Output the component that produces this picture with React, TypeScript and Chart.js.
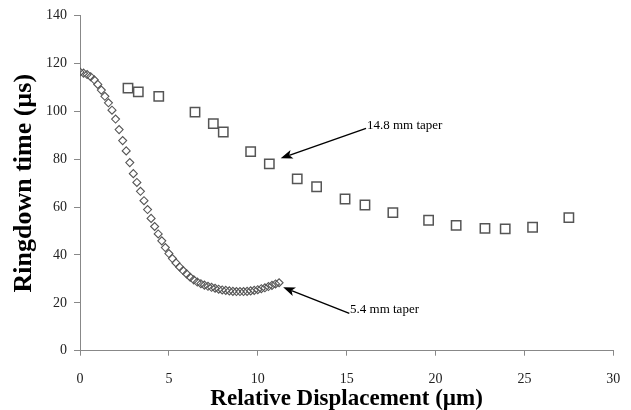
import React, { useEffect, useRef } from "react";
import { Chart, registerables } from "chart.js";

Chart.register(...registerables);

// 14.8 mm taper (squares)
const taper148X = [2.70, 3.28, 4.43, 6.47, 7.50, 8.06, 9.60, 10.65, 12.22, 13.31, 14.91, 16.03, 17.60, 19.61, 21.16, 22.78, 23.92, 25.46, 27.50];
const taper148Y = [109.7, 108.2, 106.3, 99.7, 94.9, 91.4, 83.2, 78.1, 71.8, 68.5, 63.4, 60.9, 57.7, 54.5, 52.4, 51.1, 50.9, 51.6, 55.6];

// 5.4 mm taper (diamonds)
const taper54X = [0.0, 0.2, 0.4, 0.6, 0.8, 1.0, 1.2, 1.4, 1.6, 1.8, 2.0, 2.2, 2.4, 2.6, 2.8, 3.0, 3.2, 3.4, 3.6, 3.8, 4.0, 4.2, 4.4, 4.6, 4.8, 5.0, 5.2, 5.4, 5.6, 5.8, 6.0, 6.2, 6.4, 6.6, 6.8, 7.0, 7.2, 7.4, 7.6, 7.8, 8.0, 8.2, 8.4, 8.6, 8.8, 9.0, 9.2, 9.4, 9.6, 9.8, 10.0, 10.2, 10.4, 10.6, 10.8, 11.0, 11.2];
const taper54Y = [116.5, 116.0, 115.4, 114.5, 113.2, 111.3, 108.9, 106.3, 103.6, 100.5, 96.8, 92.4, 87.8, 83.5, 78.6, 74.0, 70.3, 66.6, 62.7, 59.0, 55.3, 51.9, 48.8, 45.9, 43.1, 40.6, 38.5, 36.7, 35.0, 33.5, 32.1, 30.7, 29.6, 28.7, 28.0, 27.4, 26.9, 26.5, 26.1, 25.7, 25.4, 25.2, 25.0, 24.8, 24.7, 24.7, 24.7, 24.8, 25.0, 25.2, 25.5, 25.9, 26.3, 26.8, 27.3, 27.9, 28.4];

// annotations (data units)
const noteLabels = ["14.8 mm taper", "5.4 mm taper"];
const noteTextX = [16.14, 15.19];
const noteTextY = [92.6, 15.8];
const arrowTailX = [16.09, 15.15];
const arrowTailY = [92.9, 15.6];
const arrowHeadX = [11.29, 11.43];
const arrowHeadY = [80.4, 26.5];

const X_TITLE = "Relative Displacement (\u00b5m)";
const Y_TITLE = "Ringdown time (\u00b5s)";

const SERIF = "'Liberation Serif', 'DejaVu Serif', serif";

const annotationPlugin = {
  id: "notes",
  afterDatasetsDraw(chart: any) {
    const { ctx, scales } = chart;
    const xs = scales.x;
    const ys = scales.y;
    ctx.save();
    for (let i = 0; i < noteLabels.length; i++) {
      const tx = xs.getPixelForValue(arrowTailX[i]);
      const ty = ys.getPixelForValue(arrowTailY[i]);
      const hx = xs.getPixelForValue(arrowHeadX[i]);
      const hy = ys.getPixelForValue(arrowHeadY[i]);
      const ang = Math.atan2(hy - ty, hx - tx);
      const headLen = 12;
      const headHalf = 4.5;
      const bx = hx - headLen * Math.cos(ang);
      const by = hy - headLen * Math.sin(ang);
      ctx.strokeStyle = "#000";
      ctx.lineWidth = 1.4;
      ctx.beginPath();
      ctx.moveTo(tx, ty);
      ctx.lineTo(bx + 3 * Math.cos(ang), by + 3 * Math.sin(ang));
      ctx.stroke();
      ctx.fillStyle = "#000";
      ctx.beginPath();
      ctx.moveTo(hx, hy);
      ctx.lineTo(bx - headHalf * Math.sin(ang), by + headHalf * Math.cos(ang));
      ctx.lineTo(bx + 3 * Math.cos(ang), by + 3 * Math.sin(ang));
      ctx.lineTo(bx + headHalf * Math.sin(ang), by - headHalf * Math.cos(ang));
      ctx.closePath();
      ctx.fill();

      ctx.font = `13px ${SERIF}`;
      ctx.textAlign = "left";
      ctx.textBaseline = "alphabetic";
      ctx.fillText(noteLabels[i], xs.getPixelForValue(noteTextX[i]), ys.getPixelForValue(noteTextY[i]));
    }
    ctx.restore();
  },
};

export default function App() {
  const ref = useRef<HTMLCanvasElement | null>(null);
  useEffect(() => {
    if (!ref.current) return;
    const chart = new Chart(ref.current, {
      type: "scatter",
      data: {
        datasets: [
          {
            label: "14.8 mm taper",
            data: taper148X.map((x, i) => ({ x, y: taper148Y[i] })),
            pointStyle: "rect",
            pointRadius: 6.6,
            pointBorderColor: "#555",
            pointBorderWidth: 1.5,
            pointBackgroundColor: "rgba(0,0,0,0)",
          },
          {
            label: "5.4 mm taper",
            data: taper54X.map((x, i) => ({ x, y: taper54Y[i] })),
            pointStyle: "rectRot",
            pointRadius: 4,
            pointBorderColor: "#555",
            pointBorderWidth: 1.1,
            pointBackgroundColor: "rgba(0,0,0,0)",
          },
        ],
      },
      options: {
        responsive: false,
        animation: false,
        layout: { padding: { top: 15.7, right: 17.7, bottom: 0, left: 0 } },
        plugins: { legend: { display: false }, tooltip: { enabled: false } },
        scales: {
          x: {
            type: "linear",
            min: 0,
            max: 30,
            afterFit: (s: any) => { s.height = 59.3; s.paddingLeft = 0; s.paddingRight = 0; },
            grid: { display: true, drawOnChartArea: false, drawTicks: true, tickLength: 5, color: "#888" },
            border: { color: "#888", width: 1 },
            ticks: { stepSize: 5, padding: 15, color: "#222", font: { family: SERIF, size: 14 } },
            title: { display: true, text: X_TITLE, color: "#000", padding: { top: 0, bottom: -3 }, font: { family: SERIF, size: 23, weight: "bold" } },
          },
          y: {
            type: "linear",
            min: 0,
            max: 140,
            afterFit: (s: any) => { s.width = 80; s.paddingTop = 0; s.paddingBottom = 0; },
            grid: { display: true, drawOnChartArea: false, drawTicks: true, tickLength: 6, color: "#888" },
            border: { color: "#888", width: 1 },
            ticks: { stepSize: 20, padding: 7, color: "#222", font: { family: SERIF, size: 14 } },
            title: { display: true, text: Y_TITLE, color: "#000", padding: { top: 9, bottom: 0 }, font: { family: SERIF, size: 26, weight: "bold" } },
          },
        },
      },
      plugins: [annotationPlugin],
    } as any);
    return () => chart.destroy();
  }, []);
  return (
    <div style={{ position: "fixed", left: 0, top: 0, width: 631, height: 410, background: "#fff" }}>
      <canvas ref={ref} width={631} height={410} style={{ width: 631, height: 410 }} />
    </div>
  );
}
